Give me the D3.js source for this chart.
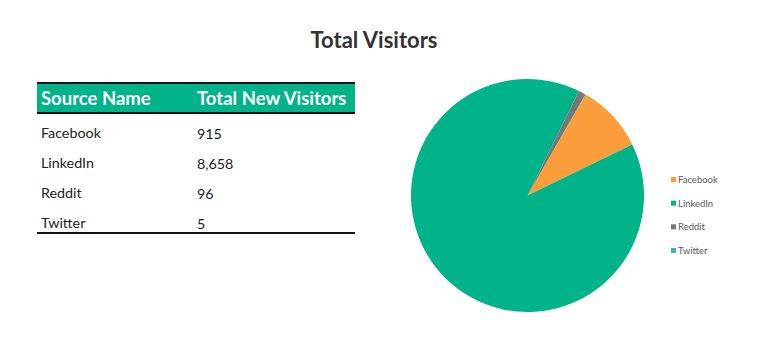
<!DOCTYPE html>
<html>
<head>
<title>Total Visitors</title>
<script src="https://d3js.org/d3.v7.min.js"></script>
<style>
body { margin: 0; background: #fff; }
</style>
</head>
<body>
<script>
var sources = ["Facebook", "LinkedIn", "Reddit", "Twitter"];
var visitors = [915, 8658, 96, 5];
var sliceColors = ["#fb9d3a", "#00b388", "#767676", "#3cb8a4"];
var headers = ["Source Name", "Total New Visitors"];

var width = 778, height = 358;
var svg = d3.select("body").append("svg")
    .attr("width", width)
    .attr("height", height);

var font = "Lato, 'Open Sans', sans-serif";

svg.append("text")
    .attr("x", 374).attr("y", 48)
    .attr("text-anchor", "middle")
    .style("font-family", font)
    .style("font-weight", "bold")
    .style("font-size", "22px")
    .style("fill", "#333")
    .text("Total Visitors");

// table
var tx = 37, tw = 318, colX = [41, 197];
var table = svg.append("g");
table.append("rect")
    .attr("x", tx).attr("y", 83).attr("width", tw).attr("height", 30)
    .attr("fill", "#00b388");
table.append("line").attr("x1", tx).attr("x2", tx + tw).attr("y1", 83).attr("y2", 83)
    .attr("stroke", "#111").attr("stroke-width", 2);
table.append("line").attr("x1", tx).attr("x2", tx + tw).attr("y1", 113).attr("y2", 113)
    .attr("stroke", "#111").attr("stroke-width", 2);
table.selectAll("text.h").data(headers).enter().append("text")
    .attr("x", function(d, i) { return colX[i]; })
    .attr("y", 105)
    .style("font-family", font)
    .style("font-weight", "bold")
    .style("font-size", "18.5px")
    .style("fill", "#fff")
    .text(function(d) { return d; });

var rowY = d3.scalePoint().domain(sources).range([138, 228]);
var fmt = d3.format(",");
var rows = table.selectAll("g.row").data(sources).enter().append("g");
rows.append("text")
    .attr("x", colX[0])
    .attr("y", function(d) { return rowY(d); })
    .style("font-family", font).style("font-size", "14.3px").style("fill", "#222")
    .text(function(d) { return d; });
rows.append("text")
    .attr("x", colX[1])
    .attr("y", function(d, i) { return rowY(d) + 1; })
    .style("font-family", font).style("font-size", "14.3px").style("fill", "#222")
    .text(function(d, i) { return fmt(visitors[i]); });
table.append("line").attr("x1", tx).attr("x2", tx + tw).attr("y1", 233).attr("y2", 233)
    .attr("stroke", "#111").attr("stroke-width", 2);

// pie
var cx = 527.5, cy = 195.5, r = 116.5;
var start = 30 * Math.PI / 180;
var pie = d3.pie().sort(null)
    .startAngle(start).endAngle(start + 2 * Math.PI)
    .value(function(d) { return d; });
var arc = d3.arc().innerRadius(0).outerRadius(r);
var color = d3.scaleOrdinal().domain(sources).range(sliceColors);

svg.append("g")
    .attr("transform", "translate(" + cx + "," + cy + ")")
    .selectAll("path")
    .data(pie(visitors))
    .enter().append("path")
    .attr("d", arc)
    .attr("fill", function(d, i) { return color(sources[i]); });

// legend
var legY = d3.scalePoint().domain(sources).range([180, 251]);
var leg = svg.append("g").selectAll("g").data(sources).enter().append("g")
    .attr("transform", function(d) { return "translate(671," + legY(d) + ")"; });
leg.append("rect").attr("x", 0).attr("y", -3).attr("width", 5).attr("height", 5)
    .attr("fill", function(d) { return color(d); });
leg.append("text").attr("x", 7).attr("y", 3)
    .style("font-family", font).style("font-size", "9.5px").style("fill", "#595959")
    .text(function(d) { return d; });
</script>
</body>
</html>
